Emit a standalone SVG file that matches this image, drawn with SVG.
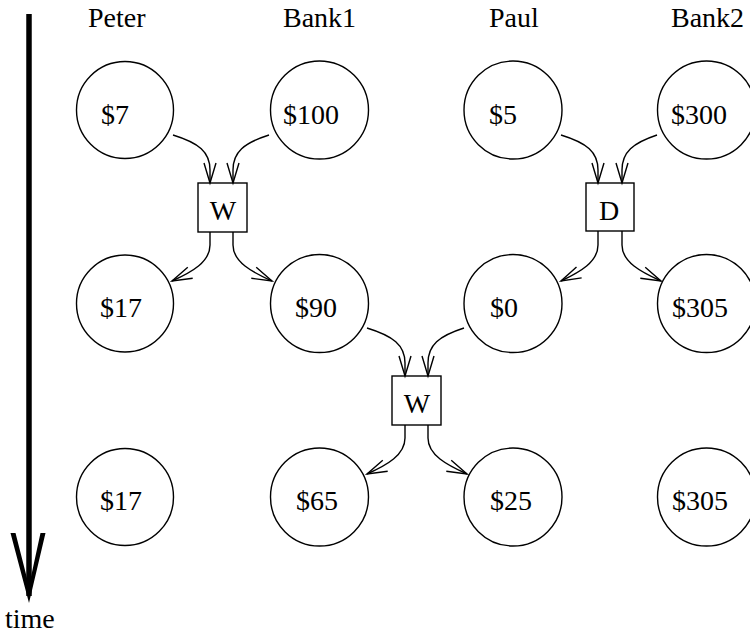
<svg xmlns="http://www.w3.org/2000/svg" width="750" height="634" viewBox="0 0 750 634">
<style>
  .st { fill: #fff; stroke: #000; stroke-width: 1.4; }
  .bx { fill: #fff; stroke: #000; stroke-width: 1.4; }
  .t { font-family: "Liberation Serif", "Times New Roman", serif; font-size: 28px; fill: #000; }
  .c { text-anchor: middle; }
  .e { fill: none; stroke: #000; stroke-width: 1.4; marker-end: url(#ah); }
</style>
<defs>
  <marker id="ah" viewBox="0 0 22 14" markerWidth="22" markerHeight="14" refX="21" refY="7" orient="auto" markerUnits="userSpaceOnUse" overflow="visible">
    <path d="M1,1 L21,7 L1,13" fill="none" stroke="#000" stroke-width="1.4"/>
  </marker>
</defs>
<rect width="750" height="634" fill="#fff"/>

<g id="time-axis">
  <line x1="29" y1="14" x2="29" y2="596" stroke="#000" stroke-width="5.5"/>
  <polygon points="10.5,533 15.5,533 29,586 40.5,533 45.5,533 29,603" fill="#000"/>
  <text class="t" x="5" y="628">time</text>
</g>

<g id="headers">
  <text class="t" x="88" y="27">Peter</text>
  <text class="t" x="283" y="27">Bank1</text>
  <text class="t" x="489" y="27">Paul</text>
  <text class="t" x="671" y="27">Bank2</text>
</g>

<g id="peter1"><circle class="st" cx="125" cy="110" r="48.5"/><text class="t" x="101" y="124">$7</text></g>
<g id="bank1a"><circle class="st" cx="319.5" cy="110" r="49"/><text class="t" x="283" y="124">$100</text></g>
<g id="paul1"><circle class="st" cx="513" cy="110" r="49"/><text class="t" x="489" y="124">$5</text></g>
<g id="bank2a"><circle class="st" cx="706.5" cy="110" r="49"/><text class="t" x="671" y="124">$300</text></g>

<g id="peter2"><circle class="st" cx="125" cy="303.5" r="48.5"/><text class="t" x="100" y="317">$17</text></g>
<g id="bank1b"><circle class="st" cx="319.5" cy="303.5" r="49"/><text class="t" x="295" y="317">$90</text></g>
<g id="paul2"><circle class="st" cx="513" cy="303.5" r="49"/><text class="t" x="490" y="317">$0</text></g>
<g id="bank2b"><circle class="st" cx="706.5" cy="303.5" r="49"/><text class="t" x="672" y="317">$305</text></g>

<g id="peter3"><circle class="st" cx="125" cy="497" r="48.5"/><text class="t" x="100" y="510">$17</text></g>
<g id="bank1c"><circle class="st" cx="319.5" cy="497" r="49"/><text class="t" x="296" y="510">$65</text></g>
<g id="paul3"><circle class="st" cx="513" cy="497" r="49"/><text class="t" x="490" y="510">$25</text></g>
<g id="bank2c"><circle class="st" cx="706.5" cy="497" r="49"/><text class="t" x="672" y="510">$305</text></g>

<g id="w1"><rect class="bx" x="198" y="183" width="49" height="49"/><text class="t c" x="223" y="220">W</text></g>
<g id="d1"><rect class="bx" x="586" y="183" width="48" height="48"/><text class="t c" x="609" y="220">D</text></g>
<g id="w2"><rect class="bx" x="392" y="376" width="49" height="49"/><text class="t c" x="417" y="413">W</text></g>

<g id="connectors">
  <path class="e" d="M173,135 C199,143 210,152 210,170 L210,183"/>
  <path class="e" d="M269,135 C244,143 233,152 233,170 L233,183"/>
  <path class="e" d="M210,232 L210,245 C210,262 192,272 172,281"/>
  <path class="e" d="M233,232 L233,245 C233,262 252,272 272,281"/>

  <path class="e" d="M561,135 C587,143 598,152 598,170 L598,183"/>
  <path class="e" d="M657,135 C633,143 622,152 622,170 L622,183"/>
  <path class="e" d="M598,231 L598,245 C598,262 580,272 561,281"/>
  <path class="e" d="M622,231 L622,245 C622,262 641,272 661,281"/>

  <path class="e" d="M367,328 C393,336 405,345 405,363 L405,376"/>
  <path class="e" d="M464,328 C439,336 428,345 428,363 L428,376"/>
  <path class="e" d="M405,425 L405,438 C405,455 387,465 367,474"/>
  <path class="e" d="M428,425 L428,438 C428,455 447,465 467,474"/>
</g>
</svg>
